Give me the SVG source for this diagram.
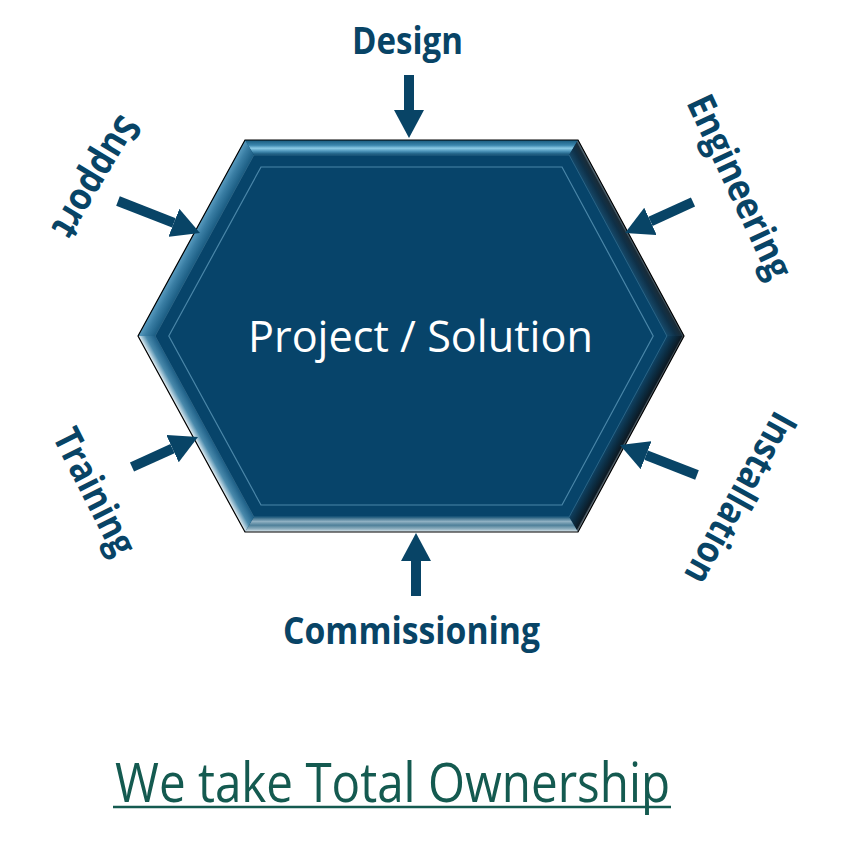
<svg xmlns="http://www.w3.org/2000/svg" width="865" height="846" viewBox="0 0 865 846">
  <style>
    .lbl { font-family: "Open Sans", "Noto Sans", "Liberation Sans", sans-serif; font-weight: 700; font-size: 38px; fill: #084466; }
    .arrow { stroke: #084466; stroke-width: 10; fill: none; stroke-linecap: butt; }
    .main { font-family: "Open Sans", "Noto Sans", "Liberation Sans", sans-serif; font-size: 43px; fill: #ffffff; }
    .foot { font-family: "Open Sans", "Noto Sans", "Liberation Sans", sans-serif; font-size: 54px; fill: #145a50; }
  </style>
  <defs>
    <marker id="head" markerUnits="userSpaceOnUse" viewBox="0 0 28 30" markerWidth="28" markerHeight="30" refX="0" refY="15" orient="auto">
      <path d="M0,0 L28,15 L0,30 Z" fill="#084466"/>
    </marker>
    <linearGradient id="gTop" gradientUnits="userSpaceOnUse" x1="411.5" y1="140" x2="411.5" y2="155">
      <stop offset="0" stop-color="#17597c"/>
      <stop offset="0.35" stop-color="#3b86ad"/>
      <stop offset="0.55" stop-color="#8ccbe6"/>
      <stop offset="0.75" stop-color="#4b93b8"/>
      <stop offset="1" stop-color="#0d4c70"/>
    </linearGradient>
    <linearGradient id="gLU" gradientUnits="userSpaceOnUse" x1="191.5" y1="238" x2="204.7" y2="245.2">
      <stop offset="0" stop-color="#5a9cc0"/>
      <stop offset="0.4" stop-color="#3a7ea4"/>
      <stop offset="1" stop-color="#1a5c82"/>
    </linearGradient>
    <linearGradient id="gRU" gradientUnits="userSpaceOnUse" x1="631" y1="238" x2="617.8" y2="245.2">
      <stop offset="0" stop-color="#6f8794"/>
      <stop offset="0.15" stop-color="#1a2c38"/>
      <stop offset="0.5" stop-color="#0f3047"/>
      <stop offset="1" stop-color="#15496a"/>
    </linearGradient>
    <linearGradient id="gRL" gradientUnits="userSpaceOnUse" x1="631" y1="434" x2="617.8" y2="426.8">
      <stop offset="0" stop-color="#8a9aa4"/>
      <stop offset="0.15" stop-color="#0d1a24"/>
      <stop offset="0.5" stop-color="#0b2a3e"/>
      <stop offset="1" stop-color="#0f4263"/>
    </linearGradient>
    <linearGradient id="gBot" gradientUnits="userSpaceOnUse" x1="411.5" y1="532" x2="411.5" y2="517">
      <stop offset="0" stop-color="#e6eef2"/>
      <stop offset="0.2" stop-color="#8fb0c0"/>
      <stop offset="0.45" stop-color="#4f8099"/>
      <stop offset="0.7" stop-color="#8fb0c2"/>
      <stop offset="1" stop-color="#245d7c"/>
    </linearGradient>
    <linearGradient id="gLL" gradientUnits="userSpaceOnUse" x1="191.5" y1="434" x2="204.7" y2="426.8">
      <stop offset="0" stop-color="#eef4f7"/>
      <stop offset="0.18" stop-color="#a8c8d8"/>
      <stop offset="0.45" stop-color="#4a8aac"/>
      <stop offset="1" stop-color="#1c5e86"/>
    </linearGradient>
  </defs>

  <rect width="865" height="846" fill="#ffffff"/>

  <g id="hexagon">
    <polygon points="138,336 245,140 578,140 684,336 578,532 245,532" fill="#07446a"/>
    <polygon points="245,140 578,140 569.1,155 253.9,155" fill="url(#gTop)"/>
    <polygon points="138,336 245,140 253.9,155 155.1,336" fill="url(#gLU)"/>
    <polygon points="578,140 684,336 666.9,336 569.1,155" fill="url(#gRU)"/>
    <polygon points="684,336 578,532 569.1,517 666.9,336" fill="url(#gRL)"/>
    <polygon points="578,532 245,532 253.9,517 569.1,517" fill="url(#gBot)"/>
    <polygon points="245,532 138,336 155.1,336 253.9,517" fill="url(#gLL)"/>
    <polygon points="155.1,336 253.9,155 569.1,155 666.9,336 569.1,517 253.9,517" fill="none" stroke="#2a6486" stroke-width="1"/>
    <polygon points="168.8,336 261,167 562,167 653.2,336 562,505 261,505" fill="none" stroke="#4a86a8" stroke-width="1.2"/>
    <polygon points="138,336 245,140 578,140 684,336 578,532 245,532" fill="none" stroke="#000000" stroke-width="1.2"/>
    <text class="main" x="420.5" y="352" text-anchor="middle" textLength="345" lengthAdjust="spacingAndGlyphs">Project / Solution</text>
  </g>

  <g id="connectors">
    <line class="arrow" x1="409" y1="75" x2="409" y2="110" marker-end="url(#head)"/>
    <line class="arrow" x1="416" y1="596" x2="416" y2="561" marker-end="url(#head)"/>
    <line class="arrow" x1="118" y1="201" x2="173.9" y2="222.8" marker-end="url(#head)"/>
    <line class="arrow" x1="693" y1="202" x2="650.5" y2="221.4" marker-end="url(#head)"/>
    <line class="arrow" x1="132" y1="467" x2="172.5" y2="448.6" marker-end="url(#head)"/>
    <line class="arrow" x1="697" y1="475" x2="646.1" y2="455.2" marker-end="url(#head)"/>
  </g>

  <g id="design">
    <text class="lbl" x="407.5" y="54" text-anchor="middle" textLength="111" lengthAdjust="spacingAndGlyphs">Design</text>
  </g>
  <g id="commissioning">
    <text class="lbl" x="411.5" y="644" text-anchor="middle" textLength="257" lengthAdjust="spacingAndGlyphs">Commissioning</text>
  </g>
  <g id="engineering" transform="translate(737,188) rotate(65)">
    <text class="lbl" x="0" y="10" text-anchor="middle" textLength="198" lengthAdjust="spacingAndGlyphs">Engineering</text>
  </g>
  <g id="installation" transform="translate(738,497) rotate(119)">
    <text class="lbl" x="0" y="10" text-anchor="middle" textLength="190" lengthAdjust="spacingAndGlyphs">Installation</text>
  </g>
  <g id="support" transform="translate(94,176) rotate(121)">
    <text class="lbl" x="0" y="10" text-anchor="middle" textLength="135" lengthAdjust="spacingAndGlyphs">Support</text>
  </g>
  <g id="training" transform="translate(92,493) rotate(63)">
    <text class="lbl" x="0" y="10" text-anchor="middle" textLength="137" lengthAdjust="spacingAndGlyphs">Training</text>
  </g>

  <g id="tagline">
    <text class="foot" x="115" y="802" textLength="555" lengthAdjust="spacingAndGlyphs">We take Total Ownership</text>
    <line x1="113" y1="807" x2="671" y2="807" stroke="#145a50" stroke-width="2.5"/>
  </g>
</svg>
